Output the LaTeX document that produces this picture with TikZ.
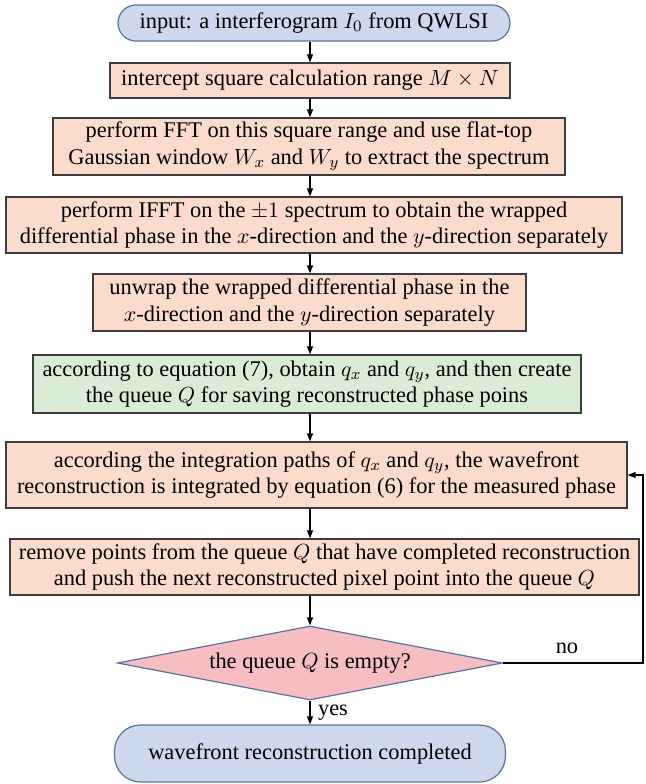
\documentclass[tikz,border=0pt]{standalone}
\usepackage{fontspec}
\setmainfont{Liberation Serif}
\usepackage{tikz}
\usetikzlibrary{shapes.geometric, arrows.meta}

\definecolor{boxpeach}{RGB}{250,219,204}
\definecolor{boxgreen}{RGB}{219,236,214}
\definecolor{boxblue}{RGB}{205,216,236}
\definecolor{boxpink}{RGB}{246,190,192}
\definecolor{edgeblue}{RGB}{90,112,160}
\definecolor{edgegray}{RGB}{60,60,60}

\tikzset{
  box/.style={draw=edgegray, fill=boxpeach, line width=0.6pt, align=center, inner sep=0pt},
  greenbox/.style={box, fill=boxgreen},
  terminal/.style={box, draw=edgeblue, fill=boxblue, rounded corners=13pt},
  decision/.style={diamond, draw=edgeblue, fill=boxpink, line width=0.6pt, aspect=5.2, inner sep=0pt,
    minimum width=192.5pt, minimum height=37pt},
  arrow/.style={line width=0.6pt, -{Triangle[length=4pt,width=3pt]}}
}

\begin{document}
\begin{tikzpicture}[x=0.5pt, y=-0.5pt, font=\fontsize{11.2}{13.2}\selectfont]
  \useasboundingbox (0,0) rectangle (645,784);
  \coordinate (spine) at (310,0);

  % steps of the flow
  \node[terminal, minimum width=196pt, minimum height=18pt, rounded corners=9pt] (input) at (314,23)
    {input: a interferogram $I_0$ from QWLSI};
  \node[box, minimum width=200pt, minimum height=17.5pt] (range) at (310,80.5)
    {intercept square calculation range $M\times N$};
  \node[box, minimum width=256pt, minimum height=28.5pt] (fft) at (309,146.5)
    {perform FFT on this square range and use flat-top\\
     Gaussian window $W_x$ and $W_y$ to extract the spectrum};
  \node[box, minimum width=308pt, minimum height=28pt] (ifft) at (314,225)
    {perform IFFT on the $\pm 1$ spectrum to obtain the wrapped\\
     differential phase in the $x$-direction and the $y$-direction separately};
  \node[box, minimum width=216.5pt, minimum height=28.5pt] (unwrap) at (309.5,302.5)
    {unwrap the wrapped differential phase in the\\
     $x$-direction and the $y$-direction separately};
  \node[greenbox, minimum width=274pt, minimum height=29pt] (queue) at (307,384)
    {according to equation (7), obtain $q_x$ and $q_y$, and then create\\
     the queue $Q$ for saving reconstructed phase poins};
  \node[box, minimum width=310.5pt, minimum height=33pt] (integ) at (316.5,475)
    {according the integration paths of $q_x$ and $q_y$, the wavefront\\
     reconstruction is integrated by equation (6) for the measured phase};
  \node[box, minimum width=314.5pt, minimum height=28pt] (remove) at (324.5,567)
    {remove points from the queue $Q$ that have completed reconstruction\\
     and push the next reconstructed pixel point into the queue $Q$};
  \node[decision] (test) at (310,663) {the queue $Q$ is empty?};
  \node[terminal, minimum width=195.5pt, minimum height=28.5pt] (done) at (310,753.5)
    {wavefront reconstruction completed};

  % connectors down the spine
  \foreach \a/\b in {input/range, range/fft, fft/ifft, ifft/unwrap, unwrap/queue,
                     queue/integ, integ/remove, remove/test, test/done}
    \draw[arrow] (\a.south -| spine) -- (\b.north -| spine);

  % loop back
  \coordinate (loopc) at (643,663);
  \draw[arrow] (test.east) -- (loopc) |- (integ.east);
  \node (no) at (567,648) {no};
  \node (yes) at (333,713) {yes};
\end{tikzpicture}
\end{document}
